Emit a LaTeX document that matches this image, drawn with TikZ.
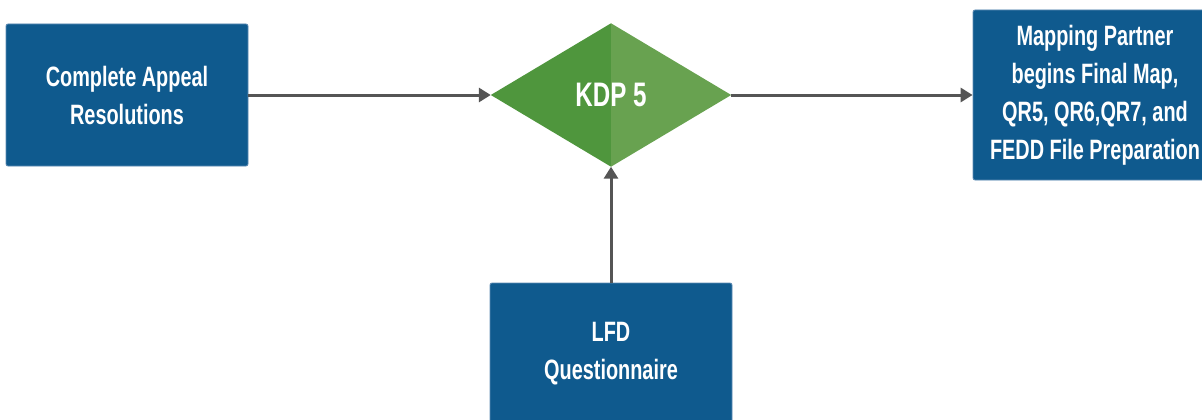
\documentclass[tikz,border=0pt]{standalone}
\usepackage{fontspec}
\setmainfont{Liberation Sans}[FakeStretch=0.71]
\usetikzlibrary{shapes.geometric,arrows.meta}
\definecolor{boxblue}{HTML}{0F5A8E}
\definecolor{boxedge}{HTML}{5E8BB3}
\definecolor{greenL}{HTML}{4F963D}
\definecolor{greenR}{HTML}{68A250}
\definecolor{arrowgray}{HTML}{555555}
\tikzset{
  bluebox/.style={fill=boxblue, draw=boxedge, line width=0.8pt, rounded corners=2pt,
    text=white, align=center, inner sep=0pt,
    font=\fontsize{28}{38}\selectfont\bfseries},
  conn/.style={draw=arrowgray, line width=3pt, -{Triangle[length=12pt,width=14pt]}}
}
\begin{document}
\begin{tikzpicture}[x=1pt,y=1pt]
\useasboundingbox (0,0) rectangle (1202,-420);
\clip (0,0) rectangle (1202,-420);
\node[bluebox, minimum width=242pt, minimum height=142pt] (car) at (127,-95) {Complete Appeal\\Resolutions};
\node[diamond, minimum width=240pt, minimum height=143pt, inner sep=0pt] (kdp) at (611,-95) {};
\fill[greenL] (kdp.north) -- (kdp.west) -- (kdp.south) -- cycle;
\fill[greenR] (kdp.north) -- (kdp.east) -- (kdp.south) -- cycle;
\node[text=white, font=\fontsize{34}{38}\selectfont\bfseries] (kdpt) at (kdp.center) {KDP 5};
\node[bluebox, minimum width=244pt, minimum height=170pt] (mp) at (1095,-95) {Mapping Partner\\begins Final Map,\\QR5, QR6,QR7, and\\FEDD File Preparation};
\node[bluebox, minimum width=242pt, minimum height=142pt] (lfd) at (611,-354) {LFD\\Questionnaire};
\draw[conn] (car.east) -- (kdp.west);
\draw[conn] (kdp.east) -- (mp.west);
\draw[conn] (lfd.north) -- (kdp.south);
\end{tikzpicture}
\end{document}
